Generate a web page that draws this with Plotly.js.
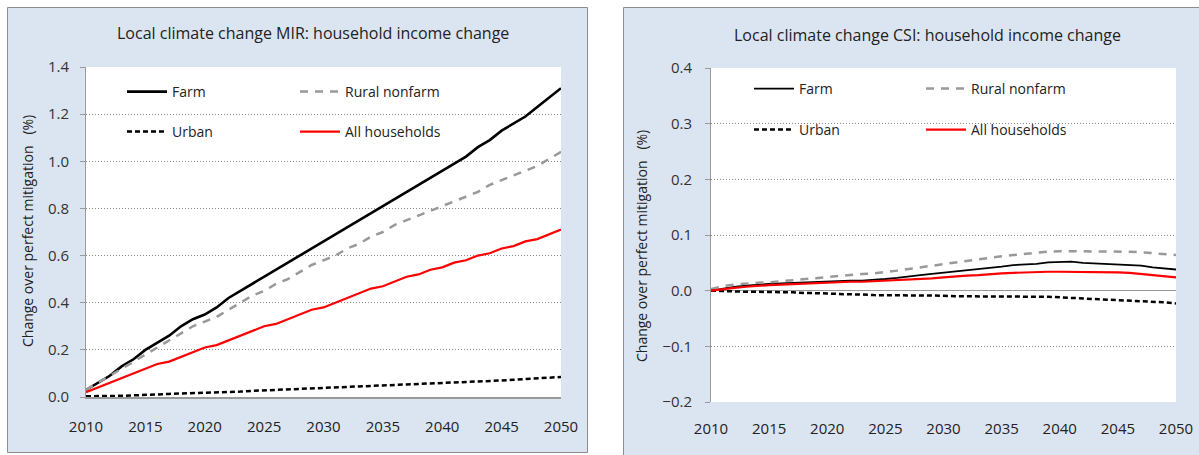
<!DOCTYPE html>
<html><head><meta charset="utf-8">
<script src="https://cdn.plot.ly/plotly-3.0.1.min.js"></script>
<style>html,body{margin:0;padding:0;background:#fff}#chart{width:1199px;height:455px}</style>
</head><body><div id="chart"></div>
<script>
// ---------- data ----------
const years = [2010,2011,2012,2013,2014,2015,2016,2017,2018,2019,2020,2021,2022,2023,2024,2025,2026,2027,2028,2029,2030,2031,2032,2033,2034,2035,2036,2037,2038,2039,2040,2041,2042,2043,2044,2045,2046,2047,2048,2049,2050];
const seriesNames = ['Farm','Rural nonfarm','Urban','All households'];
const titleMIR = 'Local climate change MIR: household income change';
const titleCSI = 'Local climate change CSI: household income change';
const yTitle = 'Change over perfect mitigation&nbsp;&nbsp;&nbsp;(%)';
const xTickVals = [2010,2015,2020,2025,2030,2035,2040,2045,2050];
const yTicksMIR = [0,0.2,0.4,0.6,0.8,1.0,1.2,1.4];
const yTicksCSI = [-0.2,-0.1,0,0.1,0.2,0.3,0.4];

const mirFarm = [0.03,0.06,0.09,0.13,0.16,0.20,0.23,0.26,0.30,0.33,0.35,0.38,0.42,0.45,0.48,0.51,0.54,0.57,0.60,0.63,0.66,0.69,0.72,0.75,0.78,0.81,0.84,0.87,0.90,0.93,0.96,0.99,1.02,1.06,1.09,1.13,1.16,1.19,1.23,1.27,1.31];
const mirRural = [0.03,0.06,0.09,0.12,0.15,0.18,0.21,0.24,0.27,0.30,0.32,0.34,0.37,0.40,0.43,0.45,0.48,0.50,0.53,0.56,0.58,0.60,0.63,0.65,0.68,0.70,0.73,0.75,0.77,0.79,0.81,0.83,0.85,0.87,0.90,0.92,0.94,0.96,0.98,1.01,1.04];
const mirUrban = [0.003,0.003,0.004,0.005,0.007,0.008,0.010,0.013,0.015,0.016,0.018,0.020,0.021,0.023,0.026,0.028,0.030,0.031,0.033,0.036,0.038,0.041,0.044,0.046,0.048,0.050,0.052,0.054,0.056,0.058,0.059,0.061,0.063,0.065,0.068,0.070,0.073,0.076,0.078,0.081,0.085];
const mirAll = [0.02,0.04,0.06,0.08,0.10,0.12,0.14,0.15,0.17,0.19,0.21,0.22,0.24,0.26,0.28,0.30,0.31,0.33,0.35,0.37,0.38,0.40,0.42,0.44,0.46,0.47,0.49,0.51,0.52,0.54,0.55,0.57,0.58,0.60,0.61,0.63,0.64,0.66,0.67,0.69,0.71];

const csiFarm = [0.000,0.004,0.007,0.009,0.011,0.012,0.013,0.014,0.015,0.016,0.017,0.017,0.018,0.018,0.019,0.021,0.023,0.026,0.028,0.030,0.032,0.035,0.037,0.039,0.041,0.043,0.046,0.047,0.048,0.051,0.052,0.052,0.050,0.049,0.049,0.048,0.047,0.045,0.042,0.040,0.038];
const csiRural = [0.003,0.008,0.011,0.013,0.014,0.015,0.017,0.019,0.021,0.023,0.025,0.027,0.028,0.030,0.031,0.033,0.036,0.039,0.042,0.045,0.048,0.050,0.053,0.056,0.059,0.062,0.064,0.066,0.069,0.070,0.071,0.071,0.071,0.071,0.071,0.071,0.070,0.069,0.067,0.065,0.064];
const csiUrban = [0.000,-0.001,-0.001,-0.002,-0.002,-0.002,-0.003,-0.003,-0.004,-0.004,-0.005,-0.006,-0.006,-0.007,-0.008,-0.008,-0.008,-0.009,-0.009,-0.009,-0.009,-0.010,-0.010,-0.010,-0.010,-0.010,-0.010,-0.010,-0.011,-0.011,-0.012,-0.013,-0.013,-0.014,-0.015,-0.016,-0.017,-0.018,-0.019,-0.021,-0.023];
const csiAll = [0.000,0.003,0.005,0.007,0.009,0.010,0.011,0.012,0.013,0.014,0.015,0.016,0.016,0.016,0.017,0.017,0.018,0.019,0.020,0.022,0.024,0.026,0.027,0.028,0.030,0.031,0.032,0.033,0.033,0.034,0.034,0.034,0.034,0.034,0.034,0.033,0.032,0.030,0.029,0.027,0.024];

// ---------- layout helpers ----------
const W = 1199, H = 455;
const px = x => x / W;
const py = y => 1 - y / H;
const FONT = '"Open Sans", Lato, sans-serif';
const TXT = '#222222';
const AXC = '#9a9a9a';

const styles = [
  {color:'#000000', width:2.6, dash:'solid'},
  {color:'#999999', width:2.5, dash:'8px,7px'},
  {color:'#000000', width:2.5, dash:'5px,3px'},
  {color:'#ff0000', width:2.2, dash:'solid'}
];
const stylesR = [
  {color:'#000000', width:1.8, dash:'solid'},
  {color:'#999999', width:2.5, dash:'8px,7px'},
  {color:'#000000', width:2.5, dash:'5px,3px'},
  {color:'#ff0000', width:2.2, dash:'solid'}
];

const mirData = [mirFarm, mirRural, mirUrban, mirAll];
const csiData = [csiFarm, csiRural, csiUrban, csiAll];

const traces = [];
mirData.forEach((d,i)=>traces.push({x:years, y:d, type:'scatter', mode:'lines', name:seriesNames[i],
  line:styles[i], xaxis:'x', yaxis:'y', legend: i===0 ? 'legend' : 'legend'+(i+1), hoverinfo:'skip'}));
csiData.forEach((d,i)=>traces.push({x:years, y:d, type:'scatter', mode:'lines', name:seriesNames[i],
  line:stylesR[i], xaxis:'x2', yaxis:'y2', legend: 'legend'+(i+5), hoverinfo:'skip'}));

// legend line starts (px) and row centers
const legPos = [
  [129,92],[302,92],[129,132],[302,132],
  [756,89],[928,89],[756,130],[928,130]
];
function leg(p){
  return {x:px(p[0]-7), y:py(p[1]), xanchor:'left', yanchor:'middle', bgcolor:'rgba(0,0,0,0)',
    borderwidth:0, font:{family:FONT, size:14, color:TXT}, itemwidth:40,
    itemclick:false, itemdoubleclick:false};
}

const xCommon = {range:[2010,2050], tickvals:xTickVals, ticks:'', showgrid:false, zeroline:false,
  tickfont:{family:FONT, size:15, color:TXT}, fixedrange:true};
const yCommon = {ticks:'outside', ticklen:5, tickcolor:AXC, tickwidth:1, showline:true, linecolor:AXC, linewidth:1,
  showgrid:true, gridcolor:'#8a8a8a', gridwidth:1, griddash:'1px,2px', tickfont:{family:FONT, size:15, color:'#333'},
  fixedrange:true};

const layout = {
  width:W, height:H, margin:{l:0,r:0,t:0,b:0}, paper_bgcolor:'#ffffff', plot_bgcolor:'#ffffff',
  xaxis: Object.assign({}, xCommon, {domain:[px(86), px(561)], anchor:'y', showline:true, linecolor:AXC, linewidth:1.5, ticklabelstandoff:15}),
  yaxis: Object.assign({}, yCommon, {domain:[py(397), py(67)], anchor:'x', range:[0,1.4], tickvals:yTicksMIR, tickformat:'.1f', zeroline:false, ticklabelstandoff:8}),
  xaxis2: Object.assign({}, xCommon, {domain:[px(711), px(1176)], anchor:'y2', showline:false, ticklabelstandoff:16}),
  yaxis2: Object.assign({}, yCommon, {domain:[py(402), py(68)], anchor:'x2', range:[-0.2,0.4], tickvals:yTicksCSI, tickformat:'.1f', zeroline:true, zerolinecolor:AXC, zerolinewidth:1.5, ticklabelstandoff:10}),
  shapes:[
    {type:'rect', xref:'paper', yref:'paper', x0:px(7.5), x1:px(587.5), y0:py(452.5), y1:py(7.5), fillcolor:'#dbe5f1', line:{color:'#8c8c8c', width:1}, layer:'below'},
    {type:'rect', xref:'paper', yref:'paper', x0:px(623.5), x1:px(1215), y0:py(470), y1:py(7.5), fillcolor:'#dbe5f1', line:{color:'#8c8c8c', width:1}, layer:'below'},
    {type:'rect', xref:'x', yref:'y', x0:2010, x1:2050, y0:0, y1:1.4, fillcolor:'#ffffff', line:{width:0}, layer:'below'},
    {type:'rect', xref:'x2', yref:'y2', x0:2010, x1:2050, y0:-0.2, y1:0.4, fillcolor:'#ffffff', line:{width:0}, layer:'below'}
  ],
  annotations:[
    {text:titleMIR, xref:'paper', yref:'paper', x:px(313), y:py(33), xanchor:'center', yanchor:'middle', showarrow:false, font:{family:FONT, size:16, color:TXT}},
    {text:titleCSI, xref:'paper', yref:'paper', x:px(927), y:py(35), xanchor:'center', yanchor:'middle', showarrow:false, font:{family:FONT, size:16, color:TXT}},
    {text:yTitle, xref:'paper', yref:'paper', x:px(27), y:py(231), xanchor:'center', yanchor:'middle', textangle:-90, showarrow:false, font:{family:FONT, size:14, color:TXT}},
    {text:yTitle, xref:'paper', yref:'paper', x:px(642), y:py(246), xanchor:'center', yanchor:'middle', textangle:-90, showarrow:false, font:{family:FONT, size:14, color:TXT}}
  ],
  showlegend:true
};
legPos.forEach((p,i)=>{ layout[i===0 ? 'legend' : 'legend'+(i+1)] = leg(p); });

Plotly.newPlot('chart', traces, layout, {displayModeBar:false, staticPlot:true});
</script>
</body></html>
